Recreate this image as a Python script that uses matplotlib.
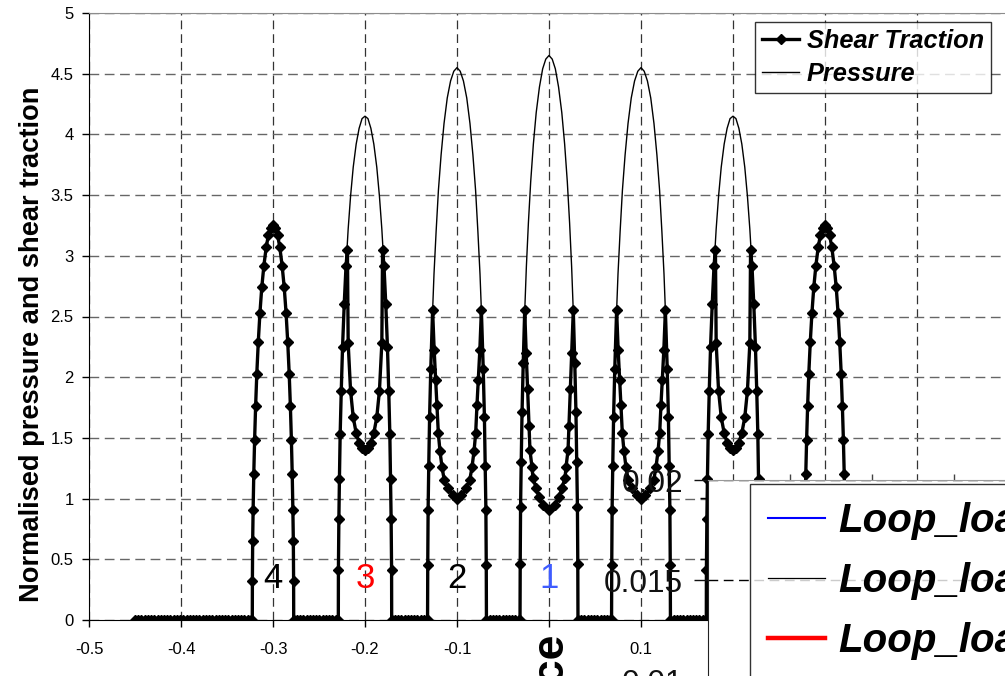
import numpy as np
import matplotlib
matplotlib.use("Agg")
import matplotlib.pyplot as plt
from matplotlib.lines import Line2D

plt.rcParams['font.family'] = ['Liberation Sans', 'DejaVu Sans']

# ---- data ----------------------------------------------------------------
pad_centres = [-0.3, -0.2, -0.1, 0.0, 0.1, 0.2, 0.3]
pad_types = ['outer', 'third', 'second', 'middle', 'second', 'third', 'outer']
pad_names = ['4', '3', '2', '1']
pad_name_colours = ['black', 'red', 'black', '#3f5cff']
shear_extent = (-0.45, 0.45)   # shear traction nodes at zero outside the pads
gap_step = 0.0035

# half profiles, listed from pad edge to pad centre (offset, value)
outer_dx = [0.0225, 0.0224, 0.0221, 0.0216, 0.0209, 0.0200, 0.0189, 0.0176,
            0.0160, 0.0142, 0.0122, 0.0099, 0.0074, 0.0050, 0.0025, 0.0]
outer_p = [0, 0.32, 0.65, 0.91, 1.20, 1.48, 1.76, 2.03,
           2.29, 2.53, 2.74, 2.92, 3.07, 3.17, 3.23, 3.25]
outer_q = outer_p  # full slip: shear equals pressure

third_dx = [0.029, 0.0289, 0.0284, 0.0278, 0.0270, 0.0258, 0.0244, 0.0226,
            0.0206, 0.0191, 0.0183, 0.0157, 0.0128, 0.0096, 0.0064, 0.0032, 0.0]
third_p = [0, 0.41, 0.83, 1.16, 1.53, 1.89, 2.25, 2.60,
           2.92, 3.12, 3.22, 3.49, 3.73, 3.92, 4.05, 4.13, 4.15]
third_q = [0, 0.41, 0.83, 1.16, 1.53, 1.89, 2.25, 2.60,
           2.92, 3.05, 2.28, 1.89, 1.67, 1.54, 1.46, 1.42, 1.40]

second_p_dx = [0.032, 0.0318, 0.0314, 0.0307, 0.0298, 0.0285, 0.0269, 0.0250,
               0.0227, 0.0211, 0.0202, 0.0173, 0.0141, 0.0106, 0.0070, 0.0035, 0.0]
second_p = [0, 0.45, 0.91, 1.27, 1.67, 2.07, 2.47, 2.85,
            3.20, 3.42, 3.54, 3.83, 4.09, 4.30, 4.44, 4.52, 4.55]
second_q_dx = [0.032, 0.0318, 0.0314, 0.0307, 0.0298, 0.0285, 0.0265, 0.0248,
               0.0232, 0.0217, 0.0203, 0.0185, 0.0163, 0.0138, 0.0101, 0.0047, 0.0]
second_q = [0, 0.45, 0.91, 1.27, 1.67, 2.07, 2.55, 2.22,
            1.98, 1.77, 1.54, 1.39, 1.26, 1.15, 1.085, 1.03, 1.00]

middle_p_dx = [0.0315, 0.0313, 0.0309, 0.0302, 0.0293, 0.0280, 0.0265, 0.0246,
               0.0224, 0.0208, 0.0199, 0.0170, 0.0139, 0.0104, 0.0069, 0.0035, 0.0]
middle_p = [0, 0.46, 0.93, 1.30, 1.71, 2.12, 2.52, 2.91,
            3.27, 3.49, 3.61, 3.92, 4.18, 4.39, 4.54, 4.62, 4.65]
middle_q_dx = [0.0315, 0.0313, 0.0309, 0.0302, 0.0293, 0.0280, 0.0264, 0.0248,
               0.0232, 0.0217, 0.0207, 0.0185, 0.0174, 0.0141, 0.0109, 0.0065, 0.0]
middle_q = [0, 0.46, 0.93, 1.30, 1.71, 2.12, 2.55, 2.20,
            1.90, 1.60, 1.40, 1.26, 1.17, 1.09, 1.01, 0.95, 0.91]

profiles = {
    'outer': (outer_dx, outer_p, outer_dx, outer_q),
    'third': (third_dx, third_p, third_dx, third_q),
    'second': (second_p_dx, second_p, second_q_dx, second_q),
    'middle': (middle_p_dx, middle_p, middle_q_dx, middle_q),
}

x_ticks = [-0.5, -0.4, -0.3, -0.2, -0.1, 0.0, 0.1, 0.2, 0.3, 0.4, 0.5]
# labels hidden in the picture (under the "...ce" caption / the second chart) left blank
x_tick_labels = ['-0.5', '-0.4', '-0.3', '-0.2', '-0.1', '', '0.1', '', '', '', '']
y_ticks = [0, 0.5, 1, 1.5, 2, 2.5, 3, 3.5, 4, 4.5, 5]
y_tick_labels = ['0', '0.5', '1', '1.5', '2', '2.5', '3', '3.5', '4', '4.5', '5']

inset_y_ticks = [0.01, 0.015, 0.02]
inset_y_labels = ['0.01', '0.015', '0.02']
inset_labels = ['Loop_load_1', 'Loop_load_2', 'Loop_load_3']
inset_colours = ['blue', 'black', 'red']
inset_widths = [1.5, 0.9, 3.2]


def mirror(dx, v, c):
    dx = np.asarray(dx, float)
    v = np.asarray(v, float)
    x = np.concatenate([c - dx, c + dx[::-1][1:]])
    y = np.concatenate([v, v[::-1][1:]])
    return x, y


# assemble the two series along the whole surface
px, py, qx, qy = [shear_extent[0]], [0.0], [], []
prev_edge = shear_extent[0]
for c, t in zip(pad_centres, pad_types):
    pdx, pv, qdx, qv = profiles[t]
    gap = np.arange(prev_edge, c - qdx[0], gap_step)
    qx.extend(gap)
    qy.extend(np.zeros(len(gap)))
    x, y = mirror(pdx, pv, c)
    px.extend(x)
    py.extend(y)
    x, y = mirror(qdx, qv, c)
    qx.extend(x)
    qy.extend(y)
    prev_edge = c + qdx[0] + gap_step
gap = np.arange(prev_edge, shear_extent[1] + 1e-9, gap_step)
qx.extend(gap)
qy.extend(np.zeros(len(gap)))
px.append(shear_extent[1])
py.append(0.0)

# ---- figure --------------------------------------------------------------
fig = plt.figure(figsize=(10.05, 6.76), dpi=100)
ax = fig.add_axes([89 / 1005, 56 / 676, 920 / 1005, 607 / 676])

ax.plot(px, py, color='black', lw=1.0, zorder=3, label='Pressure')
ax.plot(qx, qy, color='black', lw=2.4, marker='D', ms=5.4, zorder=4,
        label='Shear Traction')

ax.set_xlim(-0.5, 0.5)
ax.set_ylim(0, 5)
ax.set_xticks(x_ticks)
ax.set_xticklabels(x_tick_labels)
ax.set_yticks(y_ticks)
ax.set_yticklabels(y_tick_labels)
ax.tick_params(axis='both', direction='out', length=5, width=1, labelsize=12, colors='black')
ax.tick_params(axis='x', pad=11)
ax.tick_params(axis='y', pad=6)
ax.set_axisbelow(True)
ax.xaxis.grid(True, color='#333333', lw=0.9, ls=(0, (7, 4)))
ax.yaxis.grid(True, color='#666666', lw=1.0, ls=(0, (7, 4)))
for s in ['left', 'bottom']:
    ax.spines[s].set_color('black')
for s in ['top', 'right']:
    ax.spines[s].set_color('#8c8c8c')

ax.set_ylabel('Normalised pressure and shear traction', fontsize=19.6,
              fontweight='bold', va='center')
ax.yaxis.set_label_coords(-0.0615, 0.4547)

for c, name, col in zip(pad_centres, pad_names, pad_name_colours):
    ax.text(c, 0.265, name, fontsize=25, color=col, ha='center', va='baseline', zorder=6)

h, l = ax.get_legend_handles_labels()
leg = ax.legend(h[::-1], l[::-1], loc='upper right', bbox_to_anchor=(991 / 1005, 1 - 22 / 676),
                bbox_transform=fig.transFigure, numpoints=1, frameon=True, fancybox=False,
                edgecolor='black', borderpad=0.28, labelspacing=0.36, handlelength=1.45,
                handletextpad=0.3, borderaxespad=0,
                prop={'weight': 'bold', 'style': 'italic', 'size': 18.3})
leg.get_frame().set_linewidth(1.0)
leg.set_zorder(10)

# ---- overlapping second chart (bottom right) -----------------------------
ax2 = fig.add_axes([708 / 1005, (676 - 880) / 676, 600 / 1005, 400 / 676])
ax2.set_zorder(5)
ax2.set_facecolor('white')
ax2.set_ylim(0.0, 0.02)
ax2.set_xlim(0, 600 / 82)
ax2.set_yticks(inset_y_ticks)
ax2.set_yticklabels(inset_y_labels)
ax2.set_yticks([0.0191, 0.01605], minor=True)
ax2.tick_params(axis='y', which='major', length=10, width=1, pad=8, labelsize=22.8, colors='#111111')
ax2.tick_params(axis='y', which='minor', length=6, width=1)
ax2.xaxis.tick_top()
ax2.set_xticks([1, 2, 3, 4, 5, 6, 7])
ax2.tick_params(axis='x', length=4, width=1, labeltop=False, colors='#444444')
ax2.yaxis.grid(True, color='black', lw=1.0, ls=(0, (7, 4)))
ax2.spines['left'].set_color('#222222')
ax2.spines['top'].set_color('#999999')

inset_handles = [Line2D([], [], color=c, lw=w) for c, w in zip(inset_colours, inset_widths)]
leg2 = fig.legend(inset_handles, inset_labels, loc='upper left',
                  bbox_to_anchor=(750 / 1005, 1 - 484 / 676), frameon=True, fancybox=False,
                  edgecolor='black', borderpad=0.45, labelspacing=0.55, handlelength=1.4,
                  handletextpad=0.35, borderaxespad=0,
                  prop={'weight': 'bold', 'style': 'italic', 'size': 29})
leg2.get_frame().set_linewidth(1.0)
leg2.set_zorder(20)

fig.text(549 / 1005, 1 - 632 / 676, 'Distance', rotation=90, ha='center', va='top',
         fontsize=32, fontweight='bold')

fig.savefig('out.png', dpi=100)
